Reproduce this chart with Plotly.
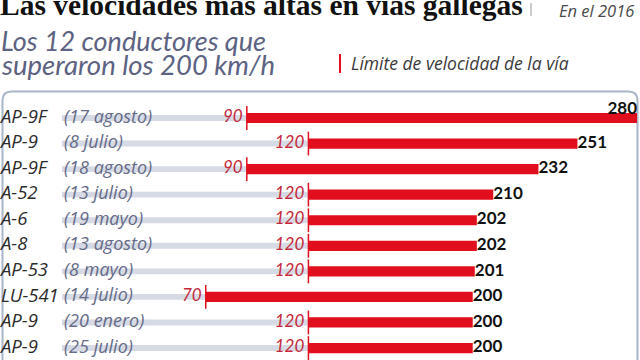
import plotly.graph_objects as go

roads = ["AP-9F", "AP-9", "AP-9F", "A-52", "A-6", "A-8", "AP-53", "LU-541", "AP-9", "AP-9"]
dates = ["(17 agosto)", "(8 julio)", "(18 agosto)", "(13 julio)", "(19 mayo)",
         "(13 agosto)", "(8 mayo)", "(14 julio)", "(20 enero)", "(25 julio)"]
limits = [90, 120, 90, 120, 120, 120, 120, 70, 120, 120]
speeds = [280, 251, 232, 210, 202, 202, 201, 200, 200, 200]

RED = "#e10f1e"
GRAY_BAR = "#d6dae4"
W, H = 640, 360
rows = list(range(len(roads)))

# pixel helpers (x: 0 km/h at 62px, 2.0536 px per km/h)
PXU = 2.0536
X0PX = 62.0
def xv(px):
    return (px - X0PX) / PXU

fig = go.Figure()

# grey background bars (0 -> limit)
fig.add_trace(go.Bar(
    y=rows, x=limits, base=[0] * len(rows), orientation="h",
    width=0.23, marker=dict(color=GRAY_BAR, line=dict(width=0)),
    hoverinfo="skip", showlegend=False))

# red bars (limit -> speed)
fig.add_trace(go.Bar(
    y=rows, x=[s - l for s, l in zip(speeds, limits)], base=limits, orientation="h",
    width=0.4, marker=dict(color=RED, line=dict(width=0)),
    hoverinfo="skip", showlegend=False))

# limit ticks
fig.add_trace(go.Scatter(
    y=rows, x=limits, mode="markers",
    marker=dict(symbol="line-ns", size=17, line=dict(color=RED, width=1.5)),
    hoverinfo="skip", showlegend=False))

# limit labels
fig.add_trace(go.Scatter(
    y=rows, x=[l - 2 for l in limits], mode="text", text=[str(l) for l in limits],
    textposition="middle left",
    textfont=dict(family="Lato", size=17, color="#c4283a", style="italic"),
    hoverinfo="skip", showlegend=False))

# speed labels
fig.add_trace(go.Scatter(
    y=rows, x=speeds, mode="text", text=[str(s) for s in speeds],
    textposition=["top left"] + ["middle right"] * (len(rows) - 1),
    textfont=dict(family="Lato", size=17, color="#111111", weight="bold"),
    hoverinfo="skip", showlegend=False))

# road names
fig.add_trace(go.Scatter(
    y=rows, x=[xv(1)] * len(rows), mode="text", text=roads,
    textposition="middle right",
    textfont=dict(family="Open Sans", size=18.5, color="#2a2a2a", style="italic"),
    hoverinfo="skip", showlegend=False))

# dates
fig.add_trace(go.Scatter(
    y=rows, x=[xv(64)] * len(rows), mode="text", text=dates,
    textposition="middle right",
    textfont=dict(family="Open Sans", size=18, color="#656b88", style="italic"),
    hoverinfo="skip", showlegend=False))

# y mapping: row 0 at 118px, 25.56 px per row
ROW0, ROWPX = 118.0, 25.56
y_top = (0 - ROW0) / ROWPX
y_bot = (H - ROW0) / ROWPX

fig.update_xaxes(range=[xv(0), xv(W)], visible=False, fixedrange=True)
fig.update_yaxes(range=[y_bot, y_top], visible=False, fixedrange=True)

# rounded box
def px(x, y):
    return f"{x / W:.5f},{1 - y / H:.5f}"
bx0, bx1, by0, by1, r = 2.5, 637.5, 91.5, 370, 9
path = (f"M {px(bx0, by1)} L {px(bx0, by0 + r)} Q {px(bx0, by0)} {px(bx0 + r, by0)} "
        f"L {px(bx1 - r, by0)} Q {px(bx1, by0)} {px(bx1, by0 + r)} L {px(bx1, by1)}")
shapes = [
    dict(type="path", path=path, xref="paper", yref="paper",
         line=dict(color="#a9b5c9", width=2), layer="below"),
    # legend marker
    dict(type="line", xref="paper", yref="paper",
         x0=340 / W, x1=340 / W, y0=1 - 54 / H, y1=1 - 73 / H,
         line=dict(color=RED, width=2)),
    # separator after title
    dict(type="line", xref="paper", yref="paper",
         x0=531 / W, x1=531 / W, y0=1 - 3 / H, y1=1 - 16 / H,
         line=dict(color="#9a9a9a", width=1)),
]

def ann(text, x, y, size, color, family, xanchor="left", style="normal", weight="normal"):
    return dict(text=text, x=x / W, y=1 - y / H, xref="paper", yref="paper",
                xanchor=xanchor, yanchor="middle", showarrow=False,
                font=dict(family=family, size=size, color=color, style=style, weight=weight))

annotations = [
    ann("Las velocidades mas altas en vias gallegas", -2, 5.5, 29.5, "#111111",
        "Liberation Serif", weight="bold"),
    ann("En el 2016", 636, 10, 16.5, "#4a4a4a", "Open Sans", xanchor="right", style="italic"),
    ann("Los 12 conductores que", -1, 40, 27, "#5c6282", "Lato", style="italic"),
    ann("superaron los 200 km/h", -1, 64, 27.5, "#5c6282", "Lato", style="italic"),
    ann("Límite de velocidad de la vía", 349, 63, 17.5, "#3a3a3a", "Open Sans", style="italic"),
]

fig.update_layout(
    width=W, height=H, autosize=False,
    margin=dict(l=0, r=0, t=0, b=0),
    paper_bgcolor="white", plot_bgcolor="white",
    barmode="overlay", showlegend=False,
    shapes=shapes, annotations=annotations,
)

fig.write_html("out.html", config={"displayModeBar": False},
               post_script="document.body.style.margin='0';")
